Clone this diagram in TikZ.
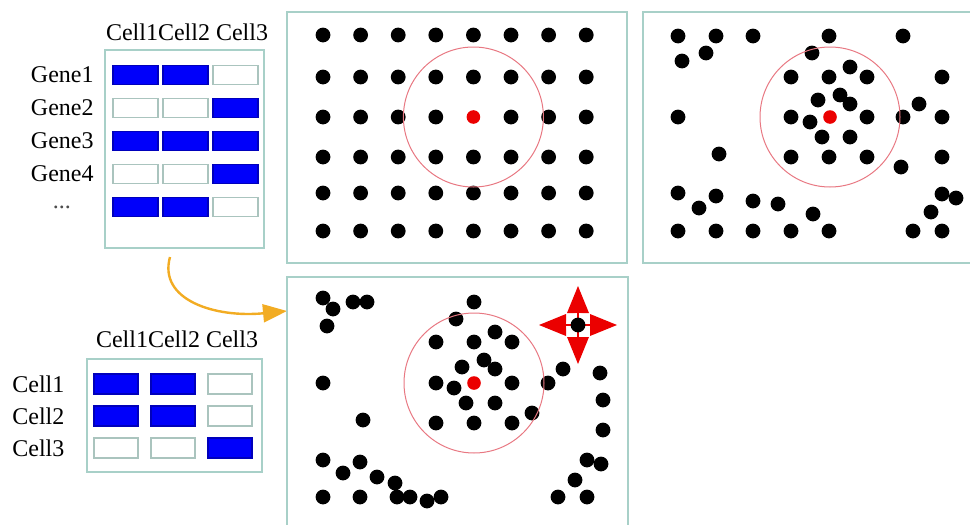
\documentclass[tikz,border=0pt]{standalone}
\usepackage{fontspec}
\setmainfont{Liberation Serif}
\usetikzlibrary{arrows.meta}
\definecolor{boxline}{RGB}{168,208,200}
\definecolor{cellline}{RGB}{170,196,190}
\definecolor{cellblue}{RGB}{0,0,250}
\definecolor{ringred}{RGB}{232,120,130}
\definecolor{dotred}{RGB}{235,0,0}
\definecolor{arroworange}{RGB}{242,172,35}
\tikzset{
  panel/.style={draw=boxline,line width=0.9pt},
  cell0/.style={draw=cellline,fill=white,line width=0.6pt},
  cell1/.style={draw=cellblue!75!black,fill=cellblue,line width=0.6pt},
  lbl/.style={font=\fontsize{12}{14}\selectfont,inner sep=0pt},
  ring/.style={draw=ringred,line width=0.5pt},
  flow/.style={draw=arroworange,line width=1.2pt,-{Triangle[length=12pt,width=9pt]}}
}
\newcommand{\dotr}{7.4}

\begin{document}
\begin{tikzpicture}[x=0.5pt,y=-0.5pt]
  \useasboundingbox (0,0) rectangle (970,525);
  % expression matrix (genes x cells)
  \draw[panel] (105,50) rectangle (264,248);
  \node[lbl] (geneHead) at (187,32) {Cell1Cell2 Cell3};
  \foreach \pat [count=\r] in {{1,1,0},{0,0,1},{1,1,1},{0,0,1},{1,1,0}}
    \foreach \v [count=\c] in \pat
      \draw[cell\v] ({113+50*(\c-1)},{65.5+33*(\r-1)}) rectangle ++(45,19);
  \foreach \g [count=\r] in {Gene1,Gene2,Gene3,Gene4}
    \node[lbl,anchor=east] (gene\r) at (94,{75+33*(\r-1)}) {\g};
  \node[lbl,text=black!70] (geneMore) at (62,207) {...};
  % similarity matrix (cells x cells)
  \draw[panel] (87,359) rectangle (262,472);
  \node[lbl] (cellHead) at (177,339) {Cell1Cell2 Cell3};
  \foreach \pat [count=\r] in {{1,1,0},{1,1,0},{0,0,1}}
    \foreach \v [count=\c] in \pat
      \draw[cell\v] ({94+57*(\c-1)},{374+32*(\r-1)}) rectangle ++(44,20);
  \foreach \g [count=\r] in {Cell1,Cell2,Cell3}
    \node[lbl,anchor=west] (cell\r) at (12,{384+32*(\r-1)}) {\g};
  % arrow to the transformed layout
  \coordinate (flowStart) at (170,257);
  \coordinate (flowEnd) at (287,311);
  \draw[flow] (flowStart) .. controls (158,300) and (215,318) .. (flowEnd);
  % regular grid
  \draw[panel] (287,12) rectangle (627,263);
  \foreach \i in {0,...,7}
    \foreach \y [count=\j from 0] in {35,77,117,157,193,231}
      {\ifnum\numexpr10*\i+\j\relax=42 \else \fill ({323+37.6*\i},\y) circle (\dotr); \fi}
  \fill[dotred] (473.4,117) circle (6.8);
  \draw[ring] (473.4,117) circle (70);
  % scattered cells
  \draw[panel] (643,12) rectangle (976,263);
  \foreach \x/\y in {678/36,716/36,753/36,829/36,903/36,682/61,706/53,812/53,850/67,
      791/77,829/77,867/77,942/77,840/95,818/100,850/104,919/104,678/117,791/117,
      810/122,867/117,903/117,942/117,822/137,850/137,719/154,791/157,829/157,
      867/157,901/167,942/157,678/193,716/196,699/208,753/201,778/204,813/214,
      942/194,956/198,931/212,678/231,716/231,753/231,791/231,829/231,913/231,942/231}
    \fill (\x,\y) circle (\dotr);
  \fill[dotred] (830,117) circle (6.8);
  \draw[ring] (830,117) circle (70);
  % scattered cells, one of them moved
  \draw[panel] (287,277) rectangle (628,532);
  \foreach \x/\y in {323/298,333/309,353/302,367/302,327/326,474/302,456/319,495/332,
      436/342,474/342,512/342,484/360,462/367,495/369,563/369,600/373,323/383,
      436/383,454/388,512/383,548/383,603/400,466/403,495/403,532/413,363/420,
      436/423,474/423,512/423,603/430,323/460,360/462,343/473,377/477,395/483,
      587/460,601/464,575/480,323/497,360/497,397/497,410/497,427/501,441/497,
      558/497,587/497}
    \fill (\x,\y) circle (\dotr);
  \fill[dotred] (474,383) circle (6.8);
  \draw[ring] (474,383) circle (70);
  % move marker
  \begin{scope}[shift={(578,325)}]
    \foreach \a in {0,90,180,270}
      \fill[dotred,rotate=\a] (0,-39) -- (11,-12) -- (-11,-12) -- cycle;
    \fill[white] (0,0) circle (12);
    \draw[dotred,line width=0.7pt] (-28,0) -- (28,0) (0,-28) -- (0,28);
    \fill (0,0) circle (\dotr);
  \end{scope}
\end{tikzpicture}
\end{document}
